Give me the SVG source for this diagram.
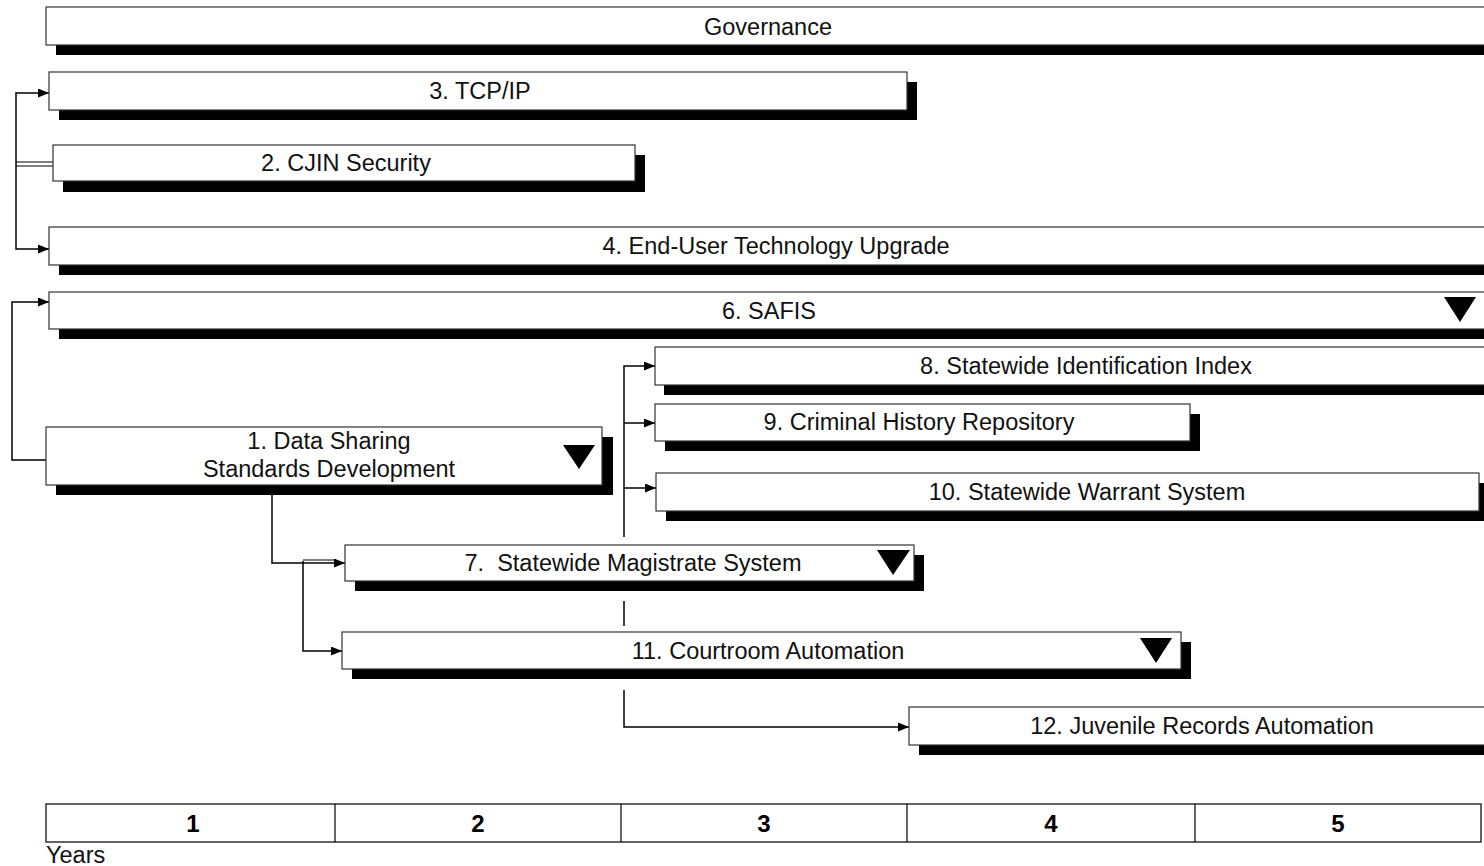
<svg xmlns="http://www.w3.org/2000/svg" width="1484" height="866" viewBox="0 0 1484 866">
  <style>
    .box { fill: #ffffff; stroke: #333333; stroke-width: 1.2; }
    .shadow { fill: #000000; }
    .label { font-family: "Liberation Sans", Arial, sans-serif; font-size: 23.5px; fill: #111111; text-anchor: middle; }
    .flag { fill: #000000; }
    .conn { fill: none; stroke: #000000; stroke-width: 1.5; }
    .thin { fill: none; stroke: #000000; stroke-width: 1.2; }
    .year { font-family: "Liberation Sans", Arial, sans-serif; font-size: 24px; font-weight: bold; fill: #000000; text-anchor: middle; }
    .axis { fill: #ffffff; stroke: #222222; stroke-width: 1.4; }
  </style>
  <defs>
    <marker id="arrow" markerUnits="userSpaceOnUse" markerWidth="12" markerHeight="10" refX="11" refY="4.5" orient="auto">
      <path d="M0,0 L11,4.5 L0,9 z" fill="#000000"/>
    </marker>
  </defs>

  <rect width="1484" height="866" fill="#ffffff"/>

  <!-- connectors -->
  <g id="connectors">
    <!-- TCP/IP and End-User branch -->
    <path class="conn" d="M16,166 V93 H49" marker-end="url(#arrow)"/>
    <path class="conn" d="M16,166 V249 H49" marker-end="url(#arrow)"/>
    <line class="thin" x1="16" y1="162" x2="53" y2="162"/>
    <line class="thin" x1="16" y1="166" x2="53" y2="166"/>
    <!-- Data Sharing to SAFIS -->
    <path class="conn" d="M46,460 H12 V302 H49" marker-end="url(#arrow)"/>
    <!-- Data Sharing to Magistrate / Courtroom -->
    <path class="conn" d="M272,495 V563 H345" marker-end="url(#arrow)"/>
    <path class="conn" d="M303,561 V651 H342" marker-end="url(#arrow)"/>
    <line class="thin" x1="303" y1="560" x2="336" y2="560"/>
    <!-- Middle trunk to 8, 9, 10 -->
    <path class="conn" d="M624,537 V366 H655" marker-end="url(#arrow)"/>
    <path class="conn" d="M624,423 H655" marker-end="url(#arrow)"/>
    <path class="conn" d="M624,488 H656" marker-end="url(#arrow)"/>
    <!-- Trunk continuation to Juvenile -->
    <line class="conn" x1="624" y1="601" x2="624" y2="626"/>
    <path class="conn" d="M624,690 V727 H909" marker-end="url(#arrow)"/>
  </g>

  <g id="governance">
    <rect class="shadow" x="56" y="17" width="1440" height="38"/>
    <rect class="box" x="46" y="7" width="1450" height="38"/>
    <text class="label" x="768" y="35">Governance</text>
  </g>

  <g id="tcp-ip">
    <rect class="shadow" x="59" y="82" width="858" height="38"/>
    <rect class="box" x="49" y="72" width="858" height="38"/>
    <text class="label" x="480" y="99">3. TCP/IP</text>
  </g>

  <g id="cjin-security">
    <rect class="shadow" x="63" y="155" width="582" height="37"/>
    <rect class="box" x="53" y="145" width="582" height="36"/>
    <text class="label" x="346" y="171">2. CJIN Security</text>
  </g>

  <g id="end-user-upgrade">
    <rect class="shadow" x="59" y="237" width="1440" height="38"/>
    <rect class="box" x="49" y="227" width="1450" height="38"/>
    <text class="label" x="776" y="254">4. End-User Technology Upgrade</text>
  </g>

  <g id="safis">
    <rect class="shadow" x="59" y="302" width="1440" height="37"/>
    <rect class="box" x="49" y="292" width="1450" height="37"/>
    <text class="label" x="769" y="319">6. SAFIS</text>
    <path class="flag" d="M1444,297 H1476 L1460,322 z"/>
  </g>

  <g id="identification-index">
    <rect class="shadow" x="664" y="357" width="840" height="38"/>
    <rect class="box" x="655" y="347" width="845" height="38"/>
    <text class="label" x="1086" y="374">8. Statewide Identification Index</text>
  </g>

  <g id="criminal-history">
    <rect class="shadow" x="665" y="414" width="535" height="37"/>
    <rect class="box" x="655" y="404" width="535" height="37"/>
    <text class="label" x="919" y="430">9. Criminal History Repository</text>
  </g>

  <g id="data-sharing">
    <rect class="shadow" x="56" y="437" width="557" height="58"/>
    <rect class="box" x="46" y="427" width="556" height="58"/>
    <text class="label" x="329" y="449">1. Data Sharing</text>
    <text class="label" x="329" y="477">Standards Development</text>
    <path class="flag" d="M563,445 H595 L579,469 z"/>
  </g>

  <g id="warrant-system">
    <rect class="shadow" x="666" y="483" width="823" height="38"/>
    <rect class="box" x="656" y="473" width="823" height="38"/>
    <text class="label" x="1087" y="500">10. Statewide Warrant System</text>
  </g>

  <g id="magistrate-system">
    <rect class="shadow" x="355" y="555" width="569" height="36"/>
    <rect class="box" x="345" y="545" width="569" height="36"/>
    <text class="label" x="633" y="571" xml:space="preserve">7.  Statewide Magistrate System</text>
    <path class="flag" d="M877,550 H910 L893,575 z"/>
  </g>

  <g id="courtroom-automation">
    <rect class="shadow" x="352" y="642" width="839" height="37"/>
    <rect class="box" x="342" y="632" width="839" height="37"/>
    <text class="label" x="768" y="659">11. Courtroom Automation</text>
    <path class="flag" d="M1140,638 H1172 L1156,663 z"/>
  </g>

  <g id="juvenile-records">
    <rect class="shadow" x="919" y="717" width="580" height="38"/>
    <rect class="box" x="909" y="707" width="590" height="38"/>
    <text class="label" x="1202" y="734">12. Juvenile Records Automation</text>
  </g>

  <!-- year scale -->
  <g id="timeline">
    <rect class="axis" x="46" y="804" width="1435" height="38"/>
    <line class="thin" x1="335" y1="804" x2="335" y2="842"/>
    <line class="thin" x1="621" y1="804" x2="621" y2="842"/>
    <line class="thin" x1="907" y1="804" x2="907" y2="842"/>
    <line class="thin" x1="1195" y1="804" x2="1195" y2="842"/>
    <text class="year" x="193" y="832">1</text>
    <text class="year" x="478" y="832">2</text>
    <text class="year" x="764" y="832">3</text>
    <text class="year" x="1051" y="832">4</text>
    <text class="year" x="1338" y="832">5</text>
    <text class="label" x="46" y="863" style="text-anchor:start">Years</text>
  </g>
</svg>
